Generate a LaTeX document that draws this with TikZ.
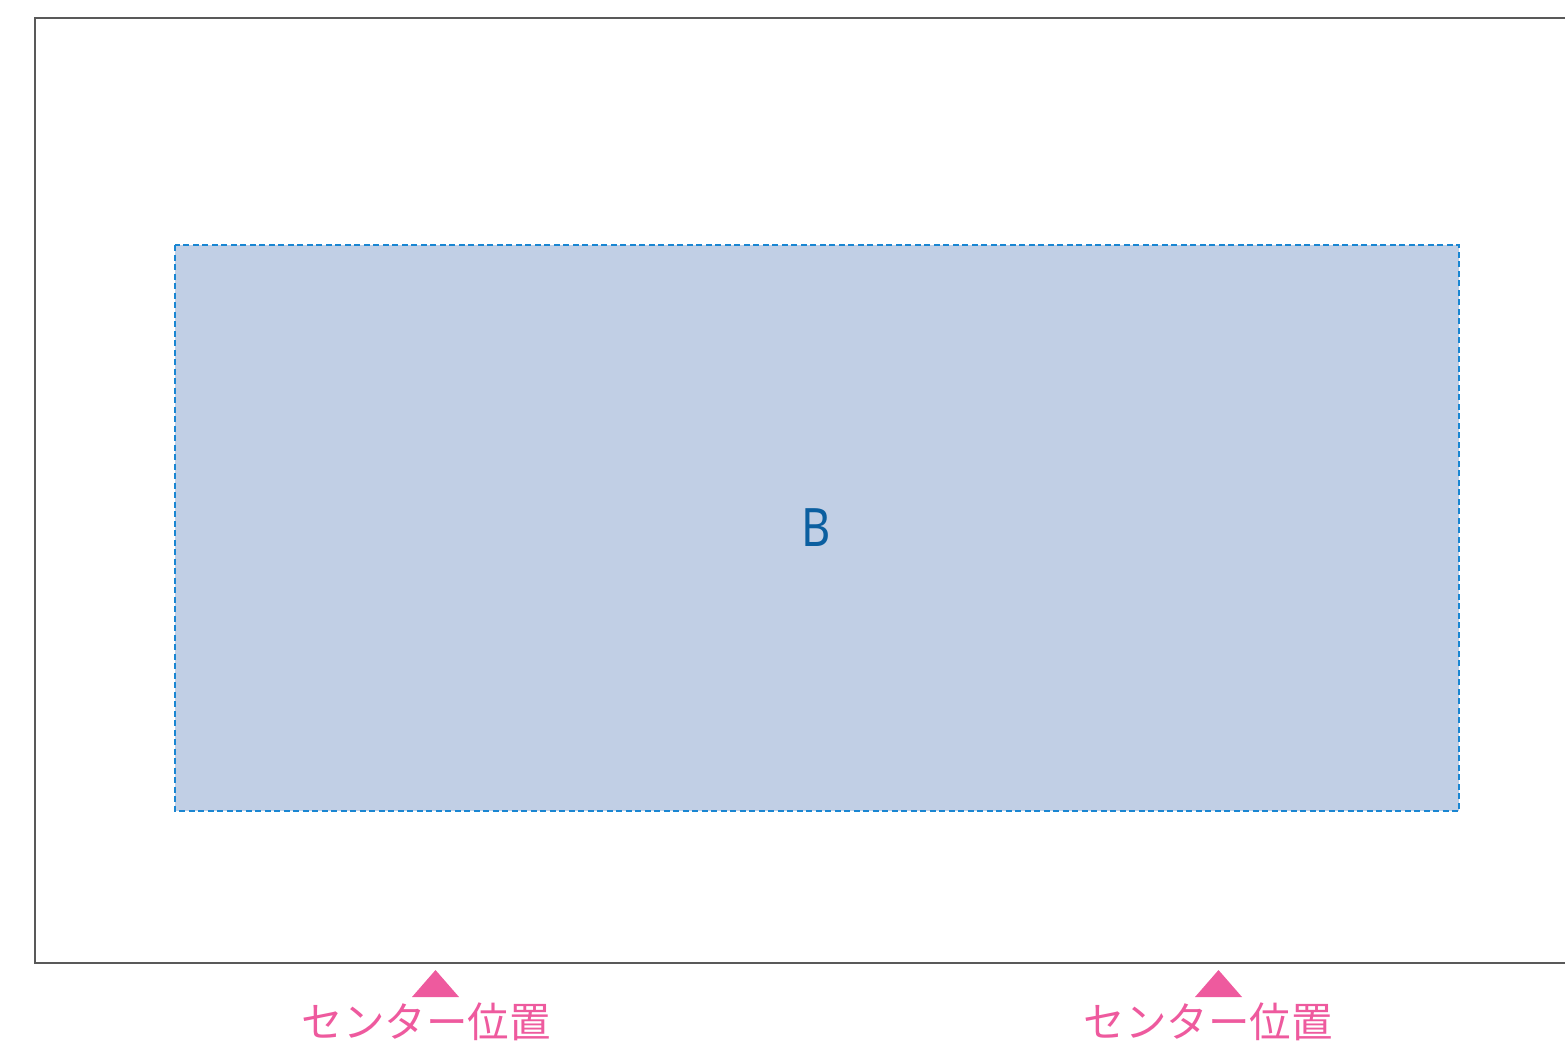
\documentclass[tikz,border=0pt]{standalone}
\usepackage{fontspec}
\newfontfamily\jpfont{Noto Sans CJK JP}
\newfontfamily\labfont{Noto Sans}
\definecolor{pinkc}{HTML}{EE5A9E}
\definecolor{boxfill}{HTML}{C1CFE5}
\definecolor{boxline}{HTML}{1A86D2}
\definecolor{btext}{HTML}{0B5FA0}
\tikzset{
  frameline/.style={draw=black!65, line width=1.2pt},
  areabox/.style={fill=boxfill},
  areaborder/.style={draw=boxline, line width=1.4pt, dash pattern=on 6pt off 3.5pt},
  marker/.style={fill=pinkc, draw=none},
  poslabel/.style={font=\jpfont\fontsize{41.5}{45}\selectfont, text=pinkc, inner sep=0pt, anchor=base},
  boxlabel/.style={font=\labfont\fontsize{53}{56}\selectfont, text=btext, inner sep=0pt, anchor=base, xscale=0.85}
}
\begin{document}
\begin{tikzpicture}[x=1pt,y=-1pt]
\useasboundingbox (0,0) rectangle (1565,1049);
\draw[frameline] (1566,18) -- (35,18) -- (35,963) -- (1566,963);
\fill[areabox] (175,245) rectangle (1459,811);
\draw[areaborder] (175,245) rectangle (1459,811);
\node[boxlabel] (B) at (816,546) {B};
\coordinate (t1) at (435.5,970);
\coordinate (t2) at (1218.5,970);
\fill[marker] (t1) -- ++(23.5,27) -- ++(-47,0) -- cycle;
\fill[marker] (t2) -- ++(23.5,27) -- ++(-47,0) -- cycle;
\node[poslabel] (L1) at (426,1037.5) {センター位置};
\node[poslabel] (L2) at (1208,1037.5) {センター位置};
\end{tikzpicture}
\end{document}
